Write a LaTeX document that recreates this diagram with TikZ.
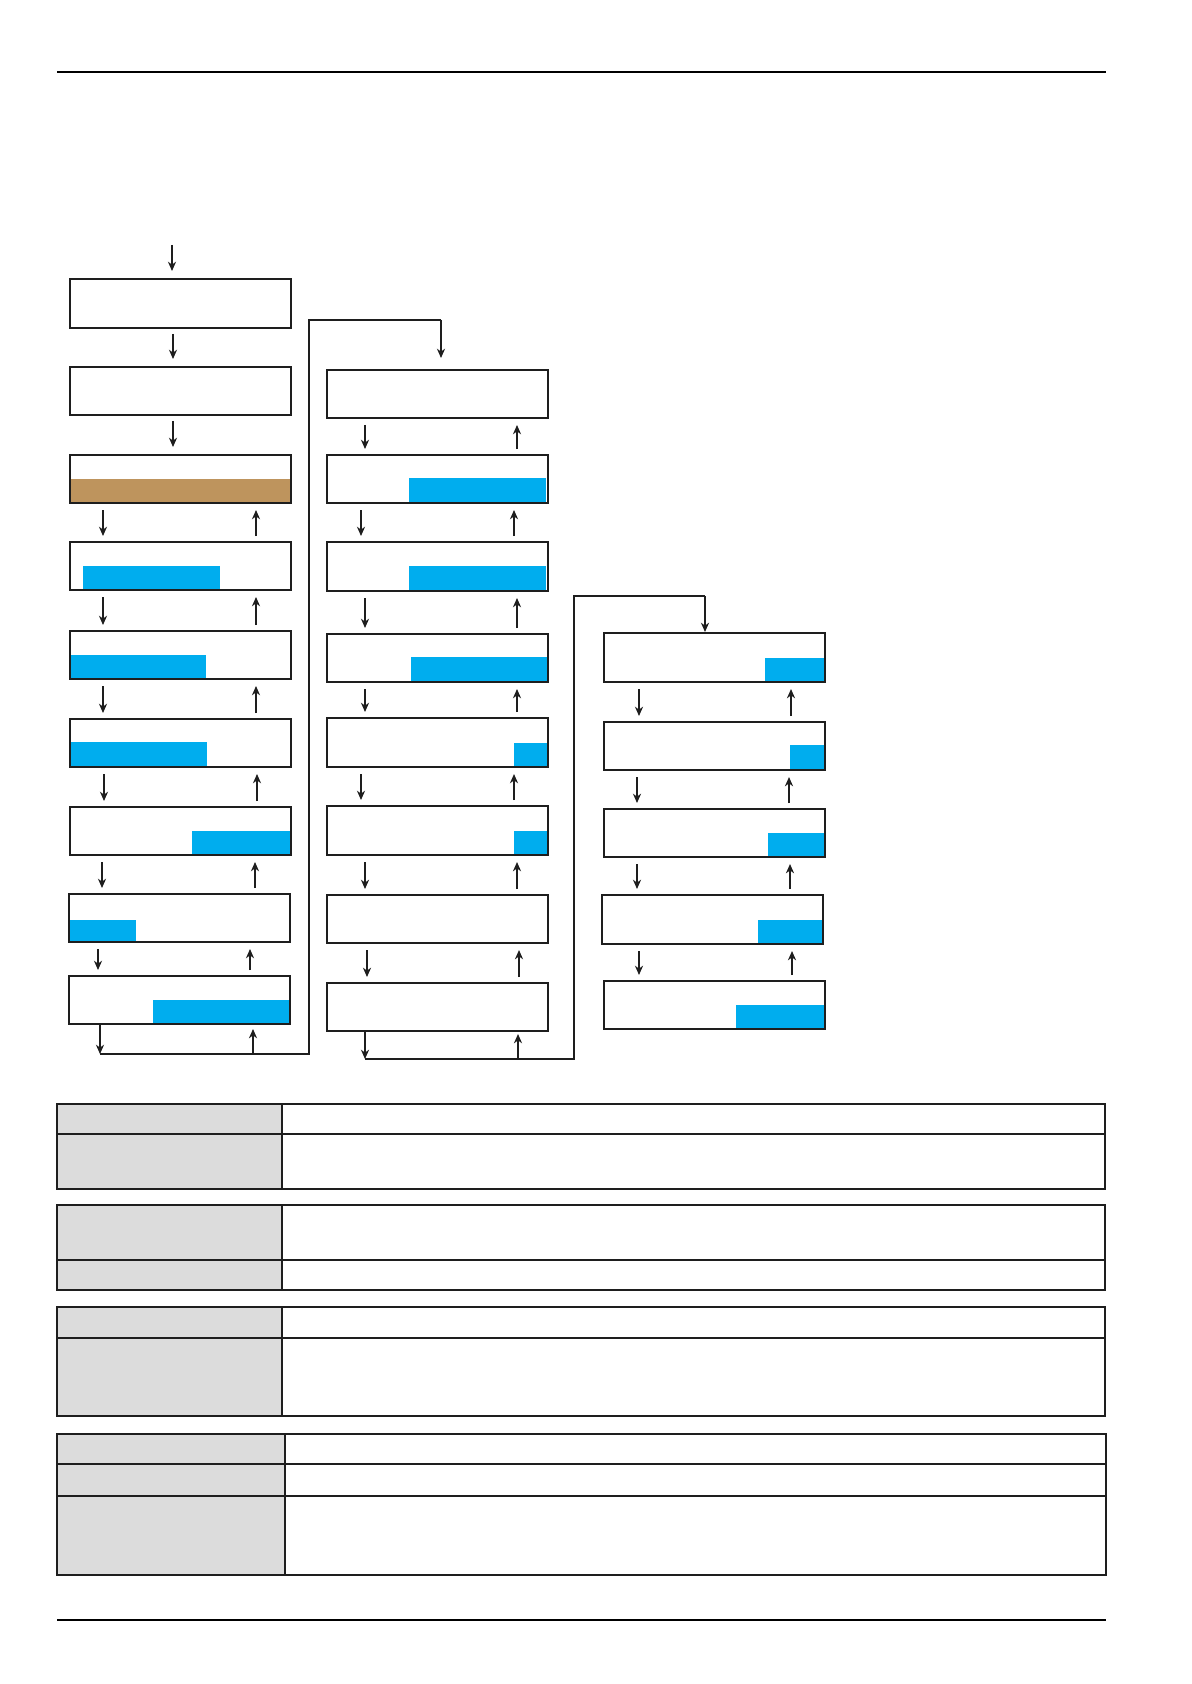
\documentclass[tikz,border=0pt]{standalone}
\usetikzlibrary{arrows.meta,fit,calc}
\definecolor{cblue}{HTML}{00ADEE}
\definecolor{cbrown}{HTML}{BE945D}
\definecolor{cgray}{HTML}{DCDCDC}
\definecolor{cline}{HTML}{1E1E1E}
\tikzset{
 pbox/.style={draw=cline, line width=1.2pt, inner sep=0pt, outer sep=0pt},
 arr/.style={draw=cline, line width=0.9pt, -{Stealth[length=4.6pt,width=4pt,inset=1.4pt]}},
 conn/.style={draw=cline, line width=0.85pt},
 gcell/.style={draw=cline, fill=cgray, line width=1pt, inner sep=0pt, outer sep=0pt},
 wcell/.style={draw=cline, line width=1pt, inner sep=0pt, outer sep=0pt},
 rulebar/.style={draw=black, line width=1.4pt},
}
\newcommand\pbx[5]{\node[pbox, fit={(#2,#3)(#4,#5)}] (#1) {};}
\newcommand\pfl[5]{\fill[#1] (#2,#3) rectangle (#4,#5);}
\newcommand\tcl[6]{\node[#6, fit={(#2,#3)(#4,#5)}] (#1) {};}
\newcommand\dar[3]{\draw[arr] ($(#1.south -| #3,0)+(0,7)$) -- ($(#2.north -| #3,0)+(0,-6)$);}
\newcommand\uar[3]{\draw[arr] ($(#2.north -| #3,0)+(0,-6)$) -- ($(#1.south -| #3,0)+(0,7)$);}
\begin{document}
\begin{tikzpicture}[x=0.5pt,y=-0.5pt]
\fill[white] (0,0) rectangle (1191,1684);
\useasboundingbox (0,0) rectangle (1191,1684);

% page rules
\coordinate (r1a) at (57,72); \coordinate (r1b) at (1106,72);
\coordinate (r2a) at (57,1620); \coordinate (r2b) at (1106,1620);
\draw[rulebar] (r1a) -- (r1b);
\draw[rulebar] (r2a) -- (r2b);

% ---------- column 1 ----------
\pbx{c1b1}{70}{279}{291}{328}
\pbx{c1b2}{70}{367}{291}{415}
\pfl{cbrown}{70}{479}{291}{503} \pbx{c1b3}{70}{455}{291}{503}
\pfl{cblue}{83}{566}{220}{590} \pbx{c1b4}{70}{542}{291}{590}
\pfl{cblue}{70}{655}{206}{679} \pbx{c1b5}{70}{631}{291}{679}
\pfl{cblue}{70}{742}{207}{767} \pbx{c1b6}{70}{719}{291}{767}
\pfl{cblue}{192}{831}{291}{855} \pbx{c1b7}{70}{807}{291}{855}
\pfl{cblue}{69}{920}{136}{942} \pbx{c1b8}{69}{894}{290}{942}
\pfl{cblue}{153}{1000}{290}{1024} \pbx{c1b9}{69}{976}{290}{1024}

\coordinate (start) at (172,245);
\draw[arr] (start) -- ($(c1b1.north -| 172,0)+(0,-8)$);
\draw[arr] ($(c1b1.south -| 173,0)+(0,6)$) -- ($(c1b2.north -| 173,0)+(0,-8)$);
\draw[arr] ($(c1b2.south -| 173,0)+(0,6)$) -- ($(c1b3.north -| 173,0)+(0,-8)$);
\dar{c1b3}{c1b4}{103} \uar{c1b3}{c1b4}{256}
\dar{c1b4}{c1b5}{103} \uar{c1b4}{c1b5}{256}
\dar{c1b5}{c1b6}{103} \uar{c1b5}{c1b6}{256}
\dar{c1b6}{c1b7}{104} \uar{c1b6}{c1b7}{257}
\dar{c1b7}{c1b8}{102} \uar{c1b7}{c1b8}{255}
\dar{c1b8}{c1b9}{98} \uar{c1b8}{c1b9}{250}

\coordinate (l1a) at (100,1054);
\coordinate (l1u) at (253,1054);
\coordinate (l1b) at (309,1054);
\coordinate (l1c) at (309,320);
\coordinate (l1d) at (441,320);
\draw[arr] (c1b9.south -| l1a) -- (l1a);
\draw[arr] (l1u) -- ($(c1b9.south -| l1u)+(0,5)$);
\draw[conn] (l1a) -- (l1b) -- (l1c) -- (l1d);

% ---------- column 2 ----------
\pbx{c2b1}{327}{370}{548}{418}
\pfl{cblue}{409}{478}{546}{503} \pbx{c2b2}{327}{455}{548}{503}
\pfl{cblue}{409}{566}{546}{591} \pbx{c2b3}{327}{542}{548}{591}
\pfl{cblue}{411}{657}{548}{682} \pbx{c2b4}{327}{634}{548}{682}
\pfl{cblue}{514}{743}{548}{767} \pbx{c2b5}{327}{718}{548}{767}
\pfl{cblue}{514}{831}{548}{855} \pbx{c2b6}{327}{806}{548}{855}
\pbx{c2b7}{327}{895}{548}{943}
\pbx{c2b8}{327}{983}{548}{1031}

\draw[arr] (l1d) -- ($(c2b1.north -| l1d)+(0,-12)$);
\dar{c2b1}{c2b2}{365} \uar{c2b1}{c2b2}{517}
\dar{c2b2}{c2b3}{361} \uar{c2b2}{c2b3}{514}
\dar{c2b3}{c2b4}{365} \uar{c2b3}{c2b4}{517}
\dar{c2b4}{c2b5}{365} \uar{c2b4}{c2b5}{517}
\dar{c2b5}{c2b6}{361} \uar{c2b5}{c2b6}{514}
\dar{c2b6}{c2b7}{365} \uar{c2b6}{c2b7}{517}
\dar{c2b7}{c2b8}{367} \uar{c2b7}{c2b8}{519}

\coordinate (l2a) at (365,1059);
\coordinate (l2u) at (518,1059);
\coordinate (l2b) at (574,1059);
\coordinate (l2c) at (574,596);
\coordinate (l2d) at (705,596);
\draw[arr] (c2b8.south -| l2a) -- (l2a);
\draw[arr] (l2u) -- ($(c2b8.south -| l2u)+(0,3)$);
\draw[conn] (l2a) -- (l2b) -- (l2c) -- (l2d);

% ---------- column 3 ----------
\pfl{cblue}{765}{658}{825}{682} \pbx{c3b1}{604}{633}{825}{682}
\pfl{cblue}{790}{745}{825}{770} \pbx{c3b2}{604}{722}{825}{770}
\pfl{cblue}{768}{833}{825}{857} \pbx{c3b3}{604}{809}{825}{857}
\pfl{cblue}{758}{920}{823}{944} \pbx{c3b4}{602}{895}{823}{944}
\pfl{cblue}{736}{1005}{825}{1029} \pbx{c3b5}{604}{981}{825}{1029}

\draw[arr] (l2d) -- ($(c3b1.north -| l2d)+(0,-1)$);
\dar{c3b1}{c3b2}{639} \uar{c3b1}{c3b2}{791}
\dar{c3b2}{c3b3}{637} \uar{c3b2}{c3b3}{789}
\dar{c3b3}{c3b4}{637} \uar{c3b3}{c3b4}{790}
\dar{c3b4}{c3b5}{639} \uar{c3b4}{c3b5}{792}

% ---------- tables ----------
\tcl{t1g1}{57}{1104}{282}{1134}{gcell} \tcl{t1w1}{282}{1104}{1105}{1134}{wcell}
\tcl{t1g2}{57}{1134}{282}{1189}{gcell} \tcl{t1w2}{282}{1134}{1105}{1189}{wcell}

\tcl{t2g1}{57}{1205}{282}{1260}{gcell} \tcl{t2w1}{282}{1205}{1105}{1260}{wcell}
\tcl{t2g2}{57}{1260}{282}{1290}{gcell} \tcl{t2w2}{282}{1260}{1105}{1290}{wcell}

\tcl{t3g1}{57}{1307}{282}{1338}{gcell} \tcl{t3w1}{282}{1307}{1105}{1338}{wcell}
\tcl{t3g2}{57}{1338}{282}{1416}{gcell} \tcl{t3w2}{282}{1338}{1105}{1416}{wcell}

\tcl{t4g1}{57}{1434}{285}{1464}{gcell} \tcl{t4w1}{285}{1434}{1106}{1464}{wcell}
\tcl{t4g2}{57}{1464}{285}{1496}{gcell} \tcl{t4w2}{285}{1464}{1106}{1496}{wcell}
\tcl{t4g3}{57}{1496}{285}{1575}{gcell} \tcl{t4w3}{285}{1496}{1106}{1575}{wcell}
\end{tikzpicture}
\end{document}
